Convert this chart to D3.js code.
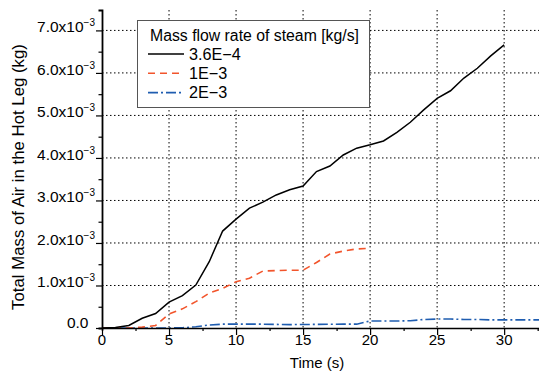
<!DOCTYPE html>
<html>
<head>
<meta charset="utf-8">
<script src="https://cdn.jsdelivr.net/npm/d3@7"></script>
<style>
  body { margin: 0; background: #fff; }
  svg { display: block; }
  text { font-family: "Liberation Sans", Arial, sans-serif; fill: #000; }
</style>
</head>
<body>
<svg id="chart" width="539" height="380"></svg>
<script>
// values in units of 1e-3 kg
const timeBlack = [0,1,2,3,4,5,6,7,8,9,10,11,12,13,14,15,16,17,18,19,20,21,22,23,24,25,26,27,28,29,30];
const massBlack = [0,0.01,0.06,0.23,0.34,0.61,0.76,1.01,1.56,2.28,2.56,2.82,2.96,3.13,3.25,3.34,3.68,3.81,4.07,4.23,4.31,4.40,4.60,4.84,5.13,5.40,5.58,5.88,6.11,6.40,6.66];
const timeRed = [0,1,2,3,4,5,6,7,8,9,10,11,12,13,14,15,16,17,18,19,20];
const massRed = [0,0,0,0.02,0.06,0.33,0.45,0.62,0.82,0.93,1.09,1.17,1.34,1.35,1.36,1.36,1.54,1.74,1.81,1.86,1.875];
const timeBlue = [0,5,6,7,8,9,10,12,14,16,18,19,20,21,22,23,24,25,26,27,28,29,30,31,32.6];
const massBlue = [0,0,0.005,0.03,0.07,0.09,0.09,0.09,0.08,0.085,0.09,0.09,0.165,0.165,0.165,0.17,0.20,0.21,0.21,0.20,0.20,0.19,0.19,0.19,0.19];

const seriesNames = ["3.6E\u22124", "1E\u22123", "2E\u22123"];
const legendTitle = "Mass flow rate of steam [kg/s]";
const xTicks = [0,5,10,15,20,25,30];
const yTicks = [0,1,2,3,4,5,6,7];
const xTitle = "Time (s)";
const yTitle = "Total Mass of Air in the Hot Leg (kg)";

const svg = d3.select("#chart");
const x = d3.scaleLinear().domain([0, 32.6]).range([102, 539]);
const y = d3.scaleLinear().domain([0, 7.48]).range([328, 10]);

// grid
const grid = svg.append("g");
grid.selectAll(".gx").data(xTicks.filter(d => d > 0)).enter().append("line")
  .attr("x1", d => x(d)).attr("x2", d => x(d)).attr("y1", y(7.48)).attr("y2", y(0))
  .attr("stroke", "#000").attr("stroke-width", 1).attr("stroke-dasharray", "1.5,2.5");
grid.selectAll(".gy").data(yTicks.filter(d => d > 0)).enter().append("line")
  .attr("x1", x(0)).attr("x2", 539).attr("y1", d => y(d)).attr("y2", d => y(d))
  .attr("stroke", "#000").attr("stroke-width", 1).attr("stroke-dasharray", "1.5,2.5");

// series
const line = d3.line().x(d => x(d[0])).y(d => y(d[1]));
const series = [
  {t: timeBlue, v: massBlue, color: "#1f5db0", dash: "10,3,2,3", w: 1.6},
  {t: timeRed, v: massRed, color: "#f2552c", dash: "7,5", w: 1.6},
  {t: timeBlack, v: massBlack, color: "#000", dash: null, w: 1.5}
];
series.forEach(s => {
  svg.append("path").datum(d3.zip(s.t, s.v)).attr("d", line)
    .attr("fill", "none").attr("stroke", s.color).attr("stroke-width", s.w)
    .attr("stroke-dasharray", s.dash);
});

// axes
const xAxis = svg.append("g").attr("transform", `translate(0,${y(0)})`);
xAxis.call(d3.axisBottom(x).tickValues(d3.range(0, 32.6, 2.5)).tickSize(3).tickFormat(""));
xAxis.call(g => g.selectAll(".tick").filter(d => d % 5 === 0).select("line").attr("y2", 7));
xAxis.select(".domain").attr("stroke-width", 1.5);
xAxis.selectAll(".tick line").attr("stroke-width", 1.2);
svg.append("g").selectAll("text").data(xTicks).enter().append("text")
  .attr("x", d => x(d)).attr("y", 345).attr("text-anchor", "middle")
  .attr("font-size", 15).text(d => d);

const yAxis = svg.append("g").attr("transform", `translate(${x(0)},0)`);
yAxis.call(d3.axisLeft(y).tickValues(d3.range(0, 7.49, 0.5)).tickSize(3.5).tickFormat(""));
yAxis.call(g => g.selectAll(".tick").filter(d => Math.abs(d - Math.round(d)) < 1e-6).select("line").attr("x2", -6));
yAxis.select(".domain").attr("stroke-width", 1.8);
yAxis.selectAll(".tick line").attr("stroke-width", 1.2);

const yl = svg.append("g").selectAll("text").data(yTicks).enter().append("text")
  .attr("x", d => d === 0 ? 88.5 : 95).attr("y", d => y(d) + (d === 0 ? 0 : 2))
  .attr("text-anchor", "end").attr("font-size", 15.5);
yl.append("tspan").text(d => d === 0 ? "0.0" : d.toFixed(1) + "x10");
yl.filter(d => d !== 0).append("tspan").attr("font-size", 10).attr("dy", -6).text("\u22123");

// titles
svg.append("text").attr("x", 317).attr("y", 368).attr("text-anchor", "middle")
  .attr("font-size", 15).text(xTitle);
svg.append("text").attr("transform", "translate(23.5,177) rotate(-90)").attr("text-anchor", "middle")
  .attr("font-size", 16.8).text(yTitle);

// legend
const lg = svg.append("g");
lg.append("rect").attr("x", 137.5).attr("y", 20.5).attr("width", 232).attr("height", 87)
  .attr("fill", "#fff").attr("stroke", "#555").attr("stroke-width", 1);
lg.append("text").attr("x", 150).attr("y", 41).attr("font-size", 15.8).text(legendTitle);
const legendSeries = [series[2], series[1], series[0]];
legendSeries.forEach((s, i) => {
  const ly = 54 + i * 19.3;
  lg.append("line").attr("x1", 148).attr("x2", 184).attr("y1", ly).attr("y2", ly)
    .attr("stroke", s.color).attr("stroke-width", s.w).attr("stroke-dasharray", s.dash);
  lg.append("text").attr("x", 189).attr("y", ly + 5.8).attr("font-size", 16.2).text(seriesNames[i]);
});
</script>
</body>
</html>
